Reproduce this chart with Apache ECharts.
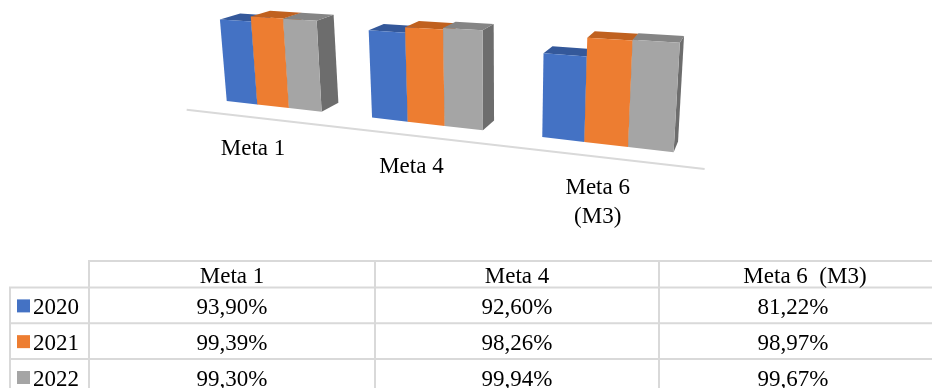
<!DOCTYPE html>
<html>
<head>
<meta charset="utf-8">
<script src="https://cdn.jsdelivr.net/npm/echarts@6/dist/echarts.min.js"></script>
<style>
html,body{margin:0;padding:0;background:#fff;}
#chart{width:932px;height:388px;}
</style>
</head>
<body>
<div id="chart"></div>
<script>
// ---- data ----
const categories = ['Meta 1', 'Meta 4', 'Meta 6  (M3)'];
const years = ['2020', '2021', '2022'];
const values2020 = [93.90, 92.60, 81.22];
const values2021 = [99.39, 98.26, 98.97];
const values2022 = [99.30, 99.94, 99.67];

// ---- styles ----
const seriesValues = [values2020, values2021, values2022];
const frontColors = ['#4472C4', '#ED7D31', '#A5A5A5'];
const topColors = ['#34589a', '#c0611f', '#858585'];
const sideColors = ['#2f4f8a', '#a9551b', '#6d6d6d'];
const FONT = '23px "Liberation Serif", "Times New Roman", serif';
const GRID_LINE = '#d9d9d9';

// ---- pseudo-3D camera (perspective view of the flat cartesian grid) ----
const CAM = { a: 121.05, b: 273, c: -0.075, y0: 101, x0: 227, slope: 0.1145,
  h0: 87.3, hx0: 235, hk: 0.0514, vpx: 495, vpy: 3300, dvx: 800, dvy: -150, dk: 0.035 };
const GROUP_HALF = 0.335, BAR_W = 0.67 / 3;

function proj(s, v) {
  const xb = (CAM.a * s + CAM.b) / (1 + CAM.c * s);
  const yb = CAM.y0 + CAM.slope * (xb - CAM.x0);
  const H = CAM.h0 + CAM.hk * (xb - CAM.hx0);
  const h = v * H;
  const dxu = (xb - CAM.vpx) / (CAM.vpy - yb);
  return [xb + h * dxu, yb - h];
}
function dep(p, d) {
  return [p[0] + d * CAM.dk * (CAM.dvx - p[0]), p[1] + d * CAM.dk * (CAM.dvy - p[1])];
}
function flat(params, api) {
  const cs = params.coordSys;
  const p = api.coord([api.value(0), api.value(1)]);
  const bw = api.size([1, 0])[0];
  return { s: (p[0] - cs.x) / bw - 0.5, v: (cs.y + cs.height - p[1]) / cs.height };
}

function barRenderer(k) {
  return function (params, api) {
    const f = flat(params, api);
    const sL = f.s - GROUP_HALF + k * BAR_W, sR = sL + BAR_W;
    const bl = proj(sL, 0), br = proj(sR, 0), tl = proj(sL, f.v), tr = proj(sR, f.v);
    return {
      type: 'group',
      children: [
        { type: 'polygon', shape: { points: [tr, br, dep(br, 1), dep(tr, 1)] }, style: { fill: sideColors[k] } },
        { type: 'polygon', shape: { points: [tl, tr, dep(tr, 1), dep(tl, 1)] }, style: { fill: topColors[k] } },
        { type: 'polygon', shape: { points: [bl, br, tr, tl] }, style: { fill: frontColors[k] } }
      ]
    };
  };
}

function labelRenderer(params, api) {
  const f = flat(params, api);
  const a = dep(proj(f.s, 0), -1);
  const name = categories[params.dataIndex].replace(/\s+\(/, '\n(');
  const children = [{
    type: 'text', x: a[0] - 1.5, y: a[1] + 19,
    style: { text: name, font: FONT, fill: '#000', textAlign: 'center', textVerticalAlign: 'top', lineHeight: 29 }
  }];
  if (params.dataIndex === 0) {
    const n = categories.length;
    const l = dep(proj(-0.45, 0), -1.2), r = dep(proj(n - 0.5, 0), -1.2);
    children.push({ type: 'line', shape: { x1: l[0], y1: l[1], x2: r[0], y2: r[1] }, style: { stroke: GRID_LINE, lineWidth: 2 } });
  }
  return { type: 'group', children: children };
}

const series = seriesValues.map((vals, k) => ({
  type: 'custom', name: years[k], silent: true,
  data: vals.map((v, i) => [i, v]),
  renderItem: barRenderer(k)
}));
series.unshift({
  type: 'custom', silent: true,
  data: categories.map((c, i) => [i, 0]),
  renderItem: labelRenderer
});

// ---- data table (built from the arrays) ----
const fmt = v => v.toFixed(2).replace('.', ',') + '%';
const colX = [89, 375, 659, 927];
const headerShift = [0, 0, 12];
const rowY = [261, 287.5, 323.3, 359, 395];
const TEXT_DY = 2.5;
const graphic = [];
function hline(x1, x2, y) { graphic.push({ type: 'line', silent: true, shape: { x1, y1: y, x2, y2: y }, style: { stroke: GRID_LINE, lineWidth: 2 } }); }
function vline(x, y1, y2) { graphic.push({ type: 'line', silent: true, shape: { x1: x, y1, x2: x, y2 }, style: { stroke: GRID_LINE, lineWidth: 2 } }); }
hline(88, 932, rowY[0]);
for (let r = 1; r <= 3; r++) hline(9, 932, rowY[r]);
vline(10, rowY[1], 388);
for (let c = 0; c < 3; c++) vline(colX[c], rowY[0], 388);
function txt(x, y, text, align) {
  graphic.push({ type: 'text', silent: true, x, y: y + TEXT_DY, style: { text, font: FONT, fill: '#000', textAlign: align || 'center', textVerticalAlign: 'middle' } });
}
categories.forEach((c, i) => txt((colX[i] + colX[i + 1]) / 2 + headerShift[i], (rowY[0] + rowY[1]) / 2, c));
years.forEach((y, r) => {
  const cy = (rowY[r + 1] + rowY[r + 2]) / 2;
  graphic.push({ type: 'rect', silent: true, shape: { x: 17, y: cy - 6, width: 13, height: 13 }, style: { fill: frontColors[r] } });
  txt(33, cy, y, 'left');
  seriesValues[r].forEach((v, i) => txt((colX[i] + colX[i + 1]) / 2, cy, fmt(v)));
});

const chart = echarts.init(document.getElementById('chart'));
chart.setOption({
  animation: false,
  backgroundColor: '#fff',
  grid: { left: 0, right: 0, top: 0, bottom: 0 },
  xAxis: { type: 'category', data: categories, show: false },
  yAxis: { type: 'value', min: 0, max: 100, show: false },
  series: series,
  graphic: graphic
});
</script>
</body>
</html>
